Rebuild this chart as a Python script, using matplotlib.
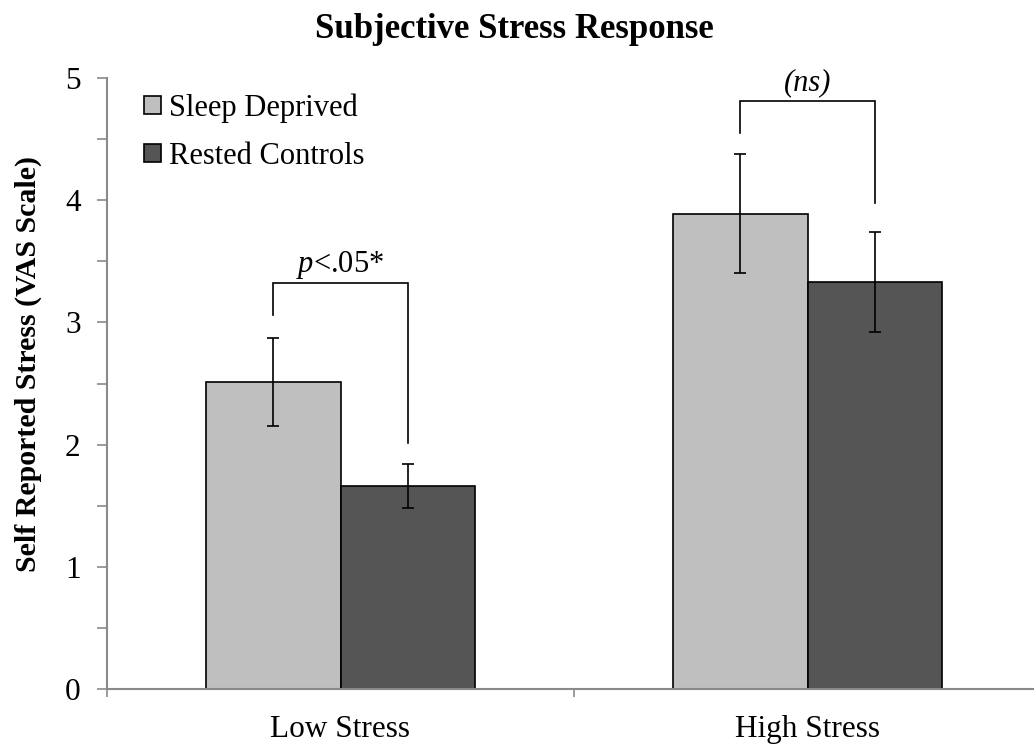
import numpy as np
import matplotlib
matplotlib.use('Agg')
from matplotlib import pyplot as plt

plt.rcParams['font.family'] = ['Liberation Serif', 'DejaVu Serif']
plt.rcParams['mathtext.fontset'] = 'custom'
plt.rcParams['mathtext.rm'] = 'Liberation Serif'
plt.rcParams['mathtext.it'] = 'Liberation Serif:italic'

conditions = ['Low Stress', 'High Stress']
groups = ['Sleep Deprived', 'Rested Controls']
sleep_deprived = [2.51, 3.89]
sleep_deprived_err = [0.36, 0.485]
rested_controls = [1.66, 3.33]
rested_controls_err = [0.18, 0.41]

# significance brackets: left leg bottom, bracket top, right leg bottom
bracket_left = [3.06, 4.55]
bracket_top = [3.32, 4.81]
bracket_right = [2.01, 3.98]
bracket_text = [r'$\it{p}$<.05*', '(ns)']
bracket_italic = [False, True]

colors = ['#bfbfbf', '#555555']
axis_gray = '#8a8a8a'

fig = plt.figure(figsize=(10.34, 7.55), dpi=100)
ax = fig.add_axes([107/1034, 1-689/755, 934/1034, (689-78)/755])

x = np.arange(len(conditions)) + 0.5
w = 0.287
ax.bar(x - w/2, sleep_deprived, w, color=colors[0], edgecolor='black',
       linewidth=1.2, label=groups[0])
ax.bar(x + w/2, rested_controls, w, color=colors[1], edgecolor='black',
       linewidth=1.2, label=groups[1])
ax.errorbar(x - w/2, sleep_deprived, yerr=sleep_deprived_err, fmt='none',
            ecolor='black', elinewidth=1.2, capsize=4.5, capthick=1.2)
ax.errorbar(x + w/2, rested_controls, yerr=rested_controls_err, fmt='none',
            ecolor='black', elinewidth=1.2, capsize=4.5, capthick=1.2)

for i in range(len(conditions)):
    xl = x[i] - w/2
    xr = x[i] + w/2
    ax.plot([xl, xl, xr, xr],
            [bracket_left[i], bracket_top[i], bracket_top[i], bracket_right[i]],
            color='black', linewidth=1.2, solid_joinstyle='miter')
    ax.text(x[i], bracket_top[i] + 0.15, bracket_text[i], ha='center', va='center',
            fontsize=22, style='italic' if bracket_italic[i] else 'normal')

ax.set_xlim(0, 2)
ax.set_ylim(0, 5)
ax.set_yticks(np.arange(0, 6, 1))
ax.set_yticks(np.arange(0.5, 5, 1), minor=True)
ax.set_xticks([0, 1, 2])
ax.set_xticklabels(['', '', ''])
ax.set_xticks(x, minor=True)
ax.set_xticklabels(conditions, minor=True)

for s in ['top', 'right']:
    ax.spines[s].set_visible(False)
for s in ['left', 'bottom']:
    ax.spines[s].set_color(axis_gray)
    ax.spines[s].set_linewidth(1.5)

ax.tick_params(axis='y', which='both', direction='out', length=7, width=1.2,
               color=axis_gray, labelsize=22.5, pad=12)
ax.tick_params(axis='x', which='major', direction='out', length=6, width=1.2,
               color=axis_gray)
ax.tick_params(axis='x', which='minor', length=0, labelsize=22.5, pad=19)

ax.legend(loc='upper left', bbox_to_anchor=(0.04, 0.975), frameon=False,
          fontsize=22, handlelength=0.55, handleheight=0.55,
          handletextpad=0.25, labelspacing=0.62, borderpad=0, borderaxespad=0)

fig.text(0.497, 1-30/755, 'Subjective Stress Response', ha='center', va='center',
         fontsize=25, fontweight='bold')
fig.text(28/1034, 1-364/755, 'Self Reported Stress (VAS Scale)', rotation=90,
         ha='center', va='center', fontsize=21.5, fontweight='bold')

fig.savefig('out.png', dpi=100)
